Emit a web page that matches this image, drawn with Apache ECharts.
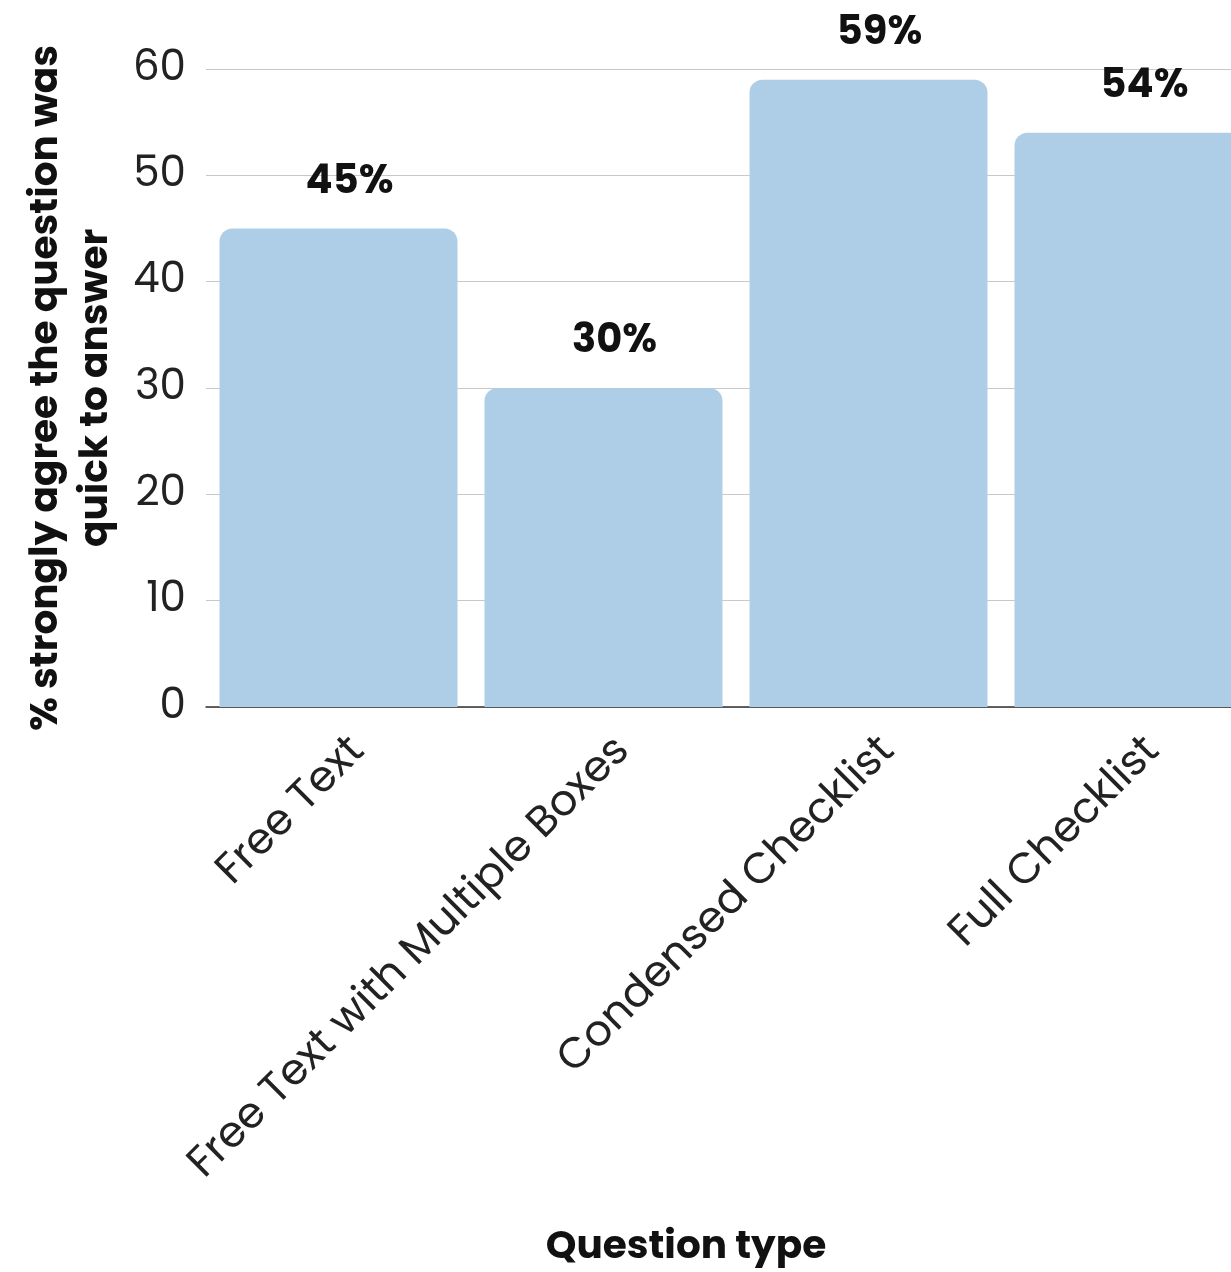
<!DOCTYPE html>
<html><head><meta charset="utf-8">
<script src="https://cdn.jsdelivr.net/npm/echarts@6/dist/echarts.min.js"></script>
<style>html,body{margin:0;padding:0;background:#fff;overflow:hidden;width:1231px;height:1272px}#c{width:1266px;height:1272px}</style>
</head><body><div id="c"></div>
<script>
const categories = ["Free Text", "Free Text with Multiple Boxes", "Condensed Checklist", "Full Checklist"];
const values = [45, 30, 59, 54];
const yTicks = [0, 10, 20, 30, 40, 50, 60];
const yTitle = "% strongly agree the question was\nquick to answer";
const xTitle = "Question type";

const font = "Poppins, 'Open Sans', 'Noto Sans', sans-serif";
const chart = echarts.init(document.getElementById('c'), null, {renderer: 'canvas'});
chart.setOption({
  animation: false,
  backgroundColor: '#ffffff',
  title: {
    text: xTitle, left: 681, top: 1224, textAlign: 'center',
    textStyle: {fontFamily: font, fontWeight: 'bold', fontSize: 39, color: '#111'}
  },
  grid: {left: 206, right: 0, top: 69, bottom: 565, containLabel: false},
  xAxis: {
    type: 'category', data: categories,
    axisLine: {show: true, lineStyle: {color: '#333', width: 1.5}},
    axisTick: {show: false},
    axisLabel: {rotate: 45, margin: 18, interval: 0, lineHeight: 56,
      formatter: function (v) { return ' \n' + v; },
      fontFamily: font, fontSize: 43, color: '#222'}
  },
  yAxis: {
    type: 'value', min: yTicks[0], max: yTicks[yTicks.length - 1], interval: 10,
    name: yTitle, nameLocation: 'middle', nameGap: 68, nameRotate: 90,
    nameTextStyle: {fontFamily: font, fontWeight: 'bold', fontSize: 39, color: '#111', lineHeight: 50, align: 'center'},
    axisLine: {show: false}, axisTick: {show: false},
    axisLabel: {margin: 20, fontFamily: font, fontSize: 42, color: '#222'},
    splitLine: {lineStyle: {color: '#c8c8c8', width: 1.2}}
  },
  series: [{
    type: 'bar', data: values, barWidth: 238,
    itemStyle: {color: '#aecde6', borderRadius: [13, 13, 0, 0]},
    label: {show: true, position: 'top', distance: 26, offset: [11, 0], formatter: '{c}%',
      fontFamily: font, fontWeight: 'bold', fontSize: 40, color: '#111'}
  }]
});
</script></body></html>
